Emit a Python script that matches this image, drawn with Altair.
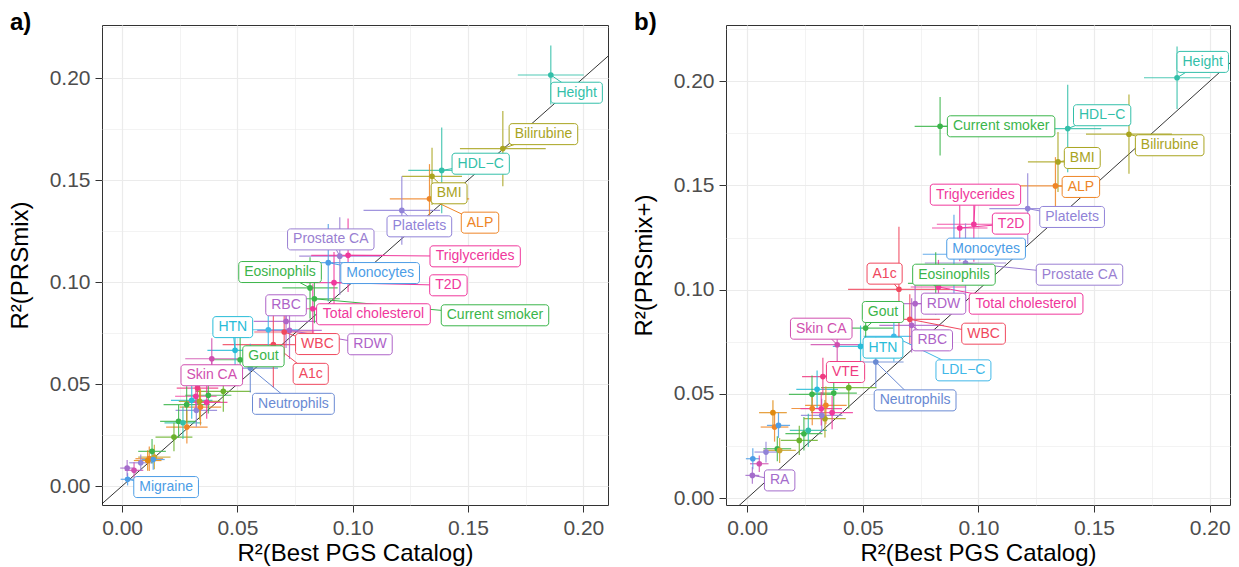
import altair as alt
import pandas as pd

# ---------------- data ----------------
trait = ["Height", "Bilirubine", "HDL\u2212C", "BMI", "ALP", "Platelets", "Prostate CA",
         "Triglycerides", "Monocytes", "T2D", "Eosinophils", "Current smoker",
         "Total cholesterol", "RBC", "RDW", "WBC", "HTN", "Gout", "Skin CA", "A1c",
         "Neutrophils", "Migraine", "LDL\u2212C", "VTE", "RA",
         "", "", "", "", "", "", "", "", "", "", "", "", "", "", "", "", "", "", "", ""]

trait_color = ["#33BFA9", "#A9A41F", "#33BFA9", "#A9A41F", "#EE8526", "#9183D8", "#9A7FD2",
               "#F0389C", "#4C9DE6", "#F0389C", "#3BB54A", "#3BB54A",
               "#F0389C", "#AE63C8", "#AE63C8", "#F0485E", "#27BCD8", "#3BB54A", "#D04FAF", "#F0485E",
               "#6A8AD3", "#4C9DE6", "#41B8E8", "#EF3A80", "#A46CCB",
               "#3BB54A", "#6AB22C", "#27BCD8", "#A9A41F", "#3BB54A", "#9183D8", "#EE8526", "#3BB54A",
               "#33BFA9", "#EE8526", "#6AB22C", "#3BB54A", "#EE8526", "#C9A530", "#9183D8", "#D04FAF",
               "#F0389C", "#F0389C", "#4C9DE6", "#E08A10"]

x_best = [0.1859, 0.1651, 0.1386, 0.1344, 0.1333, 0.1213, 0.0944, 0.0980, 0.0894, 0.0919,
          0.0815, 0.0834, 0.0827, 0.0711, 0.0726, 0.0703, 0.0490, 0.0512, 0.0389, 0.0656,
          0.0556, 0.0024, 0.0634, 0.0327, 0.0022,
          0.0374, 0.0439, 0.0302, 0.0336, 0.0280, 0.0322, 0.0340, 0.0245, 0.0264, 0.0281,
          0.0225, 0.0130, 0.0118, 0.0140, 0.0081, 0.0052, 0.0320, 0.0367, 0.0135, 0.0111]
x_err = [0.0143, 0.0186, 0.0145, 0.0130, 0.0172, 0.0166, 0.0176, 0.0160, 0.0135, 0.0120,
         0.0120, 0.0110, 0.0120, 0.0140, 0.0140, 0.0130, 0.0120, 0.0120, 0.0115, 0.0220,
         0.0120, 0.0030, 0.0130, 0.0090, 0.0030,
         0.0100, 0.0120, 0.0090, 0.0090, 0.0100, 0.0090, 0.0090, 0.0080, 0.0080, 0.0090,
         0.0080, 0.0060, 0.0060, 0.0070, 0.0050, 0.0040, 0.0090, 0.0090, 0.0050, 0.0060]

y_mix = [0.2015, 0.1654, 0.1547, 0.1518, 0.1408, 0.1351, 0.1127, 0.1131, 0.1095, 0.0997,
         0.0971, 0.0918, 0.0869, 0.0807, 0.0763, 0.0755, 0.0665, 0.0619, 0.0624, 0.0693,
         0.0578, 0.0033, 0.0766, 0.0480, 0.0088,
         0.0445, 0.0464, 0.0420, 0.0415, 0.0399, 0.0371, 0.0387, 0.0317, 0.0310, 0.0289,
         0.0240, 0.0170, 0.0134, 0.0142, 0.0114, 0.0077, 0.0440, 0.0410, 0.0130, 0.0125]
y_mix_err = [0.0145, 0.0184, 0.0210, 0.0140, 0.0170, 0.0168, 0.0190, 0.0180, 0.0190, 0.0150,
             0.0150, 0.0120, 0.0120, 0.0130, 0.0140, 0.0120, 0.0100, 0.0110, 0.0100, 0.0210,
             0.0120, 0.0030, 0.0120, 0.0080, 0.0040,
             0.0090, 0.0100, 0.0090, 0.0090, 0.0090, 0.0080, 0.0090, 0.0080, 0.0080, 0.0080,
             0.0070, 0.0060, 0.0060, 0.0060, 0.0040, 0.0040, 0.0080, 0.0080, 0.0050, 0.0050]

y_plus = [0.2017, 0.1746, 0.1773, 0.1613, 0.1498, 0.1389, 0.1128, 0.1314, 0.1170, 0.1296,
          0.1030, 0.1784, 0.1013, 0.0829, 0.0933, 0.0858, 0.0728, 0.0816, 0.0736, 0.1002,
          0.0653, 0.0189, 0.0776, 0.0583, 0.0109,
          0.0504, 0.0530, 0.0522, 0.0381, 0.0498, 0.0397, 0.0445, 0.0309, 0.0325, 0.0430,
          0.0277, 0.0237, 0.0341, 0.0229, 0.0221, 0.0165, 0.0429, 0.0410, 0.0349, 0.0410]
y_plus_err = [0.0150, 0.0190, 0.0210, 0.0144, 0.0138, 0.0170, 0.0190, 0.0180, 0.0190, 0.0160,
              0.0150, 0.0140, 0.0130, 0.0130, 0.0140, 0.0120, 0.0100, 0.0110, 0.0110, 0.0300,
              0.0120, 0.0050, 0.0120, 0.0090, 0.0040,
              0.0090, 0.0100, 0.0090, 0.0090, 0.0090, 0.0080, 0.0090, 0.0080, 0.0080, 0.0080,
              0.0070, 0.0060, 0.0070, 0.0060, 0.0050, 0.0040, 0.0080, 0.0080, 0.0060, 0.0060]

# repelled label anchors (data units) in each panel; None = not labelled
N0 = [None] * 20
lab_mix_x = [0.1971, 0.1827, 0.1555, 0.1418, 0.1552, 0.1289, 0.0905, 0.1531, 0.1119, 0.1415,
             0.0685, 0.1617, 0.1090, 0.0711, 0.1075, 0.0847, 0.0480, 0.0613, 0.0389, 0.0818,
             0.0743, 0.0191, None, None, None] + N0
lab_mix_y = [0.1928, 0.1725, 0.1580, 0.1435, 0.1291, 0.1273, 0.1209, 0.1126, 0.1044, 0.0984,
             0.1049, 0.0837, 0.0842, 0.0886, 0.0695, 0.0696, 0.0779, 0.0636, 0.0543, 0.0550,
             0.0403, -0.0005, None, None, None] + N0
lab_plus_x = [0.1970, 0.1827, 0.1535, 0.1449, 0.1443, 0.1405, 0.1437, 0.0987, 0.1033, 0.1141,
              0.0894, 0.1098, 0.1206, 0.0800, 0.0849, 0.1022, 0.0587, 0.0587, 0.0320, 0.0594,
              0.0726, None, 0.0935, 0.0425, 0.0140] + N0
lab_plus_y = [0.2093, 0.1693, 0.1837, 0.1632, 0.1493, 0.1349, 0.1072, 0.1456, 0.1197, 0.1317,
              0.1072, 0.1784, 0.0933, 0.0757, 0.0933, 0.0789, 0.0722, 0.0893, 0.0813, 0.1077,
              0.0469, None, 0.0613, 0.0605, 0.0085] + N0

tick_values = [0.0, 0.025, 0.05, 0.075, 0.1, 0.125, 0.15, 0.175, 0.2]
tick_values_y = tick_values + [0.225]

# ---------------- helpers ----------------
ARIAL = {" ": 278, "\u2212": 584, "A": 667, "B": 667, "C": 722, "D": 722, "E": 667, "G": 778,
         "H": 722, "I": 278, "L": 556, "M": 833, "N": 722, "P": 667, "R": 722, "S": 667,
         "T": 611, "V": 667, "W": 944, "c": 500, "f": 278, "i": 222, "k": 500, "l": 222,
         "m": 833, "r": 333, "s": 500, "t": 278, "y": 500}
LABEL_FS = 14


def text_px(s, fs):
    return sum(ARIAL.get(ch, 556) for ch in s) * fs / 1000.0


MAJOR = "round(datum.value * 1000) % 50 == 0"


def axis(title, values, tpad):
    return alt.Axis(
        title=title, values=values, titlePadding=tpad,
        labelExpr=f"{MAJOR} ? format(datum.value, '.2f') : ''",
        gridWidth={"condition": {"test": MAJOR, "value": 1.2}, "value": 0.6},
        tickOpacity={"condition": {"test": MAJOR, "value": 1}, "value": 0},
    )


def panel(ys, yerr, lxs, lys, xdom, ydom, ytitle, tag, W, H):
    pts = pd.DataFrame({
        "name": trait, "col": trait_color, "x": x_best,
        "xlo": [a - b for a, b in zip(x_best, x_err)],
        "xhi": [a + b for a, b in zip(x_best, x_err)],
        "y": ys,
        "ylo": [a - b for a, b in zip(ys, yerr)],
        "yhi": [a + b for a, b in zip(ys, yerr)],
    })
    kx = W / (xdom[1] - xdom[0])
    ky = H / (ydom[1] - ydom[0])
    rows = []
    for i, nm in enumerate(trait):
        if lxs[i] is None:
            continue
        hw = (text_px(nm, LABEL_FS) + 11) / 2.0 / kx
        hh = 10.5 / ky
        rows.append(dict(name=nm, col=trait_color[i], x=x_best[i], y=ys[i],
                         lx=lxs[i], ly=lys[i], bx1=lxs[i] - hw, bx2=lxs[i] + hw,
                         by1=lys[i] - hh, by2=lys[i] + hh))
    labs = pd.DataFrame(rows)

    xs = alt.Scale(domain=xdom, nice=False, zero=False)
    ysc = alt.Scale(domain=ydom, nice=False, zero=False)
    ax = axis("R\u00b2(Best PGS Catalog)", tick_values, 3)
    ay = axis(ytitle, tick_values_y, 17)
    col = alt.Color("col:N", scale=None)

    diag = alt.Chart(pd.DataFrame({"x": [-0.05, 0.3], "y": [-0.05, 0.3]})).mark_line(
        clip=True, color="black", strokeWidth=0.8).encode(
        x=alt.X("x:Q", scale=xs, axis=ax), y=alt.Y("y:Q", scale=ysc, axis=ay))
    hbar = alt.Chart(pts).mark_rule(strokeWidth=1.2, opacity=0.85).encode(
        x=alt.X("xlo:Q", scale=xs, axis=ax), x2="xhi:Q",
        y=alt.Y("y:Q", scale=ysc, axis=ay), color=col)
    vbar = alt.Chart(pts).mark_rule(strokeWidth=1.2, opacity=0.85).encode(
        x=alt.X("x:Q", scale=xs, axis=ax),
        y=alt.Y("ylo:Q", scale=ysc, axis=ay), y2="yhi:Q", color=col)
    dots = alt.Chart(pts).mark_circle(size=32, opacity=1).encode(
        x=alt.X("x:Q", scale=xs, axis=ax), y=alt.Y("y:Q", scale=ysc, axis=ay), color=col)
    seg = alt.Chart(labs).mark_rule(strokeWidth=1).encode(
        x=alt.X("x:Q", scale=xs, axis=ax), x2="lx:Q",
        y=alt.Y("y:Q", scale=ysc, axis=ay), y2="ly:Q", color=col)
    box = alt.Chart(labs).mark_rect(fill="white", strokeWidth=1, cornerRadius=3).encode(
        x=alt.X("bx1:Q", scale=xs, axis=ax), x2="bx2:Q",
        y=alt.Y("by1:Q", scale=ysc, axis=ay), y2="by2:Q",
        stroke=alt.Stroke("col:N", scale=None))
    txt = alt.Chart(labs).mark_text(fontSize=LABEL_FS, font="Liberation Sans",
                                    align="center", baseline="middle").encode(
        x=alt.X("lx:Q", scale=xs, axis=ax), y=alt.Y("ly:Q", scale=ysc, axis=ay),
        text="name:N", color=col)
    tg = alt.Chart(pd.DataFrame({"t": [tag]})).mark_text(
        align="left", baseline="top", fontSize=24, fontWeight="bold",
        font="Liberation Sans", color="black").encode(
        x=alt.value(-92), y=alt.value(-14), text="t:N")
    return alt.layer(diag, hbar, vbar, dots, seg, box, txt, tg).properties(width=W, height=H)


pa = panel(y_mix, y_mix_err, lab_mix_x, lab_mix_y, [-0.0087, 0.2107], [-0.0093, 0.2260],
           "R\u00b2(PRSmix)", "a)", 506, 480)
pb = panel(y_plus, y_plus_err, lab_plus_x, lab_plus_y, [-0.0092, 0.2088], [-0.0033, 0.2270],
           "R\u00b2(PRSmix+)", "b)", 504, 480)

chart = alt.hconcat(pa, pb, spacing=22).configure(
    padding={"left": 7, "top": 10, "right": 5, "bottom": 2},
    background="white",
).configure_view(stroke="#333333", strokeWidth=1).configure_axis(
    labelFont="Liberation Sans", titleFont="Liberation Sans",
    labelFontSize=21, titleFontSize=24, titleFontWeight="normal",
    labelColor="#4D4D4D", titleColor="black",
    tickColor="#333333", tickSize=7, tickWidth=1, labelPadding=5,
    gridColor="#EBEBEB", domain=False, labelFlush=False, labelOverlap=False,
)

chart.save("out.html", embed_options={"renderer": "svg", "actions": False})
